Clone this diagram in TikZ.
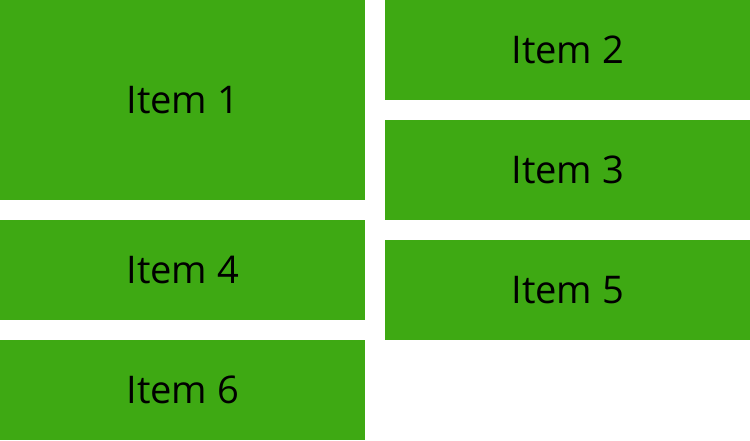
\documentclass[tikz,border=0pt]{standalone}
\usepackage{fontspec}
\setmainfont{Open Sans}
\definecolor{itemgreen}{HTML}{3EA913}
\tikzset{
  itembox/.style={fill=itemgreen,draw=none,inner sep=0pt,anchor=north west,
    minimum width=7.3cm,minimum height=2cm,font=\fontsize{21.7}{25}\selectfont}
}

\begin{document}
\begin{tikzpicture}[x=0.02cm,y=-0.02cm]
  \useasboundingbox (0,0) rectangle (750,440);
  \node[itembox,minimum height=4cm] (item1) at (0,0) {Item 1};
  \node[itembox] (item2) at (385,0) {Item 2};
  \node[itembox] (item3) at (385,120) {Item 3};
  \node[itembox] (item4) at (0,220) {Item 4};
  \node[itembox] (item5) at (385,240) {Item 5};
  \node[itembox] (item6) at (0,340) {Item 6};
\end{tikzpicture}
\end{document}
